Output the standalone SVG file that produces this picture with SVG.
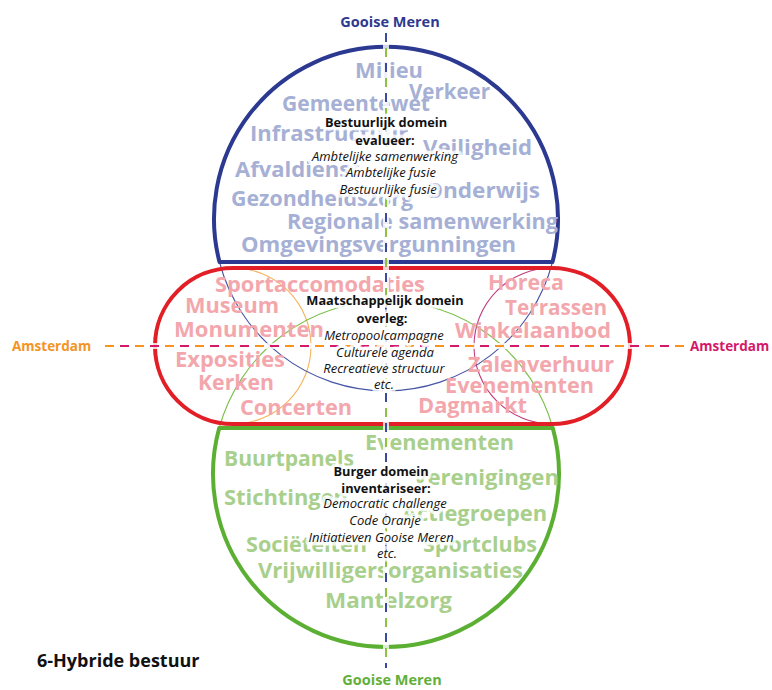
<svg xmlns="http://www.w3.org/2000/svg" width="772" height="690" viewBox="0 0 772 690">
<defs>
<style>
.fb{font-family:"Open Sans","Noto Sans","Liberation Sans",sans-serif;font-weight:bold;font-size:22px;}
.fblue{fill:#a6b0d5;}
.fred{fill:#f3a7ac;}
.fgreen{fill:#a8d08c;}
.hd{font-family:"Open Sans","Noto Sans","Liberation Sans",sans-serif;font-weight:bold;font-size:12.8px;fill:#111;text-anchor:middle;stroke:#fff;stroke-width:7;stroke-opacity:0.8;stroke-linejoin:round;paint-order:stroke;}
.it{font-family:"Open Sans","Noto Sans","Liberation Sans",sans-serif;font-style:italic;font-size:13px;fill:#111;text-anchor:middle;stroke:#fff;stroke-width:7;stroke-opacity:0.8;stroke-linejoin:round;paint-order:stroke;}
.lbl{font-family:"Open Sans","Noto Sans","Liberation Sans",sans-serif;font-weight:bold;}
.thin{fill:none;stroke-width:1.1;}
.thick{fill:none;stroke-width:4;stroke-linejoin:round;}
.halo{stroke:#fff;stroke-width:6;stroke-opacity:0.8;}
</style>
</defs>
<rect width="772" height="690" fill="#fff"/>

<g id="inner-circles">
<circle class="thin" cx="233" cy="346" r="78" stroke="#f6b25a"/>
<circle class="thin" cx="552" cy="346" r="78" stroke="#c23a7c"/>
<path class="thin" d="M219.5,262 A172,172 0 0 0 552.5,262" stroke="#4654a5"/>
<path class="thin" d="M219.2,428 A173,173 0 0 1 552.8,428" stroke="#7cc04a"/>
</g>

<g id="bestuurlijk-domein">
<path class="thick" d="M219.5,262 A172,172 0 1 1 552.5,262 Z" stroke="#2b3990"/>
<text class="fb fblue" x="355" y="78" textLength="68" lengthAdjust="spacingAndGlyphs">Milieu</text>
<text class="fb fblue" x="409" y="99" textLength="81" lengthAdjust="spacingAndGlyphs">Verkeer</text>
<text class="fb fblue" x="282" y="111" textLength="148" lengthAdjust="spacingAndGlyphs">Gemeentewet</text>
<text class="fb fblue" x="250" y="141">Infrastructuur</text>
<text class="fb fblue" x="423" y="155" textLength="109" lengthAdjust="spacingAndGlyphs">Veiligheid</text>
<text class="fb fblue" x="235" y="177">Afvaldienst</text>
<text class="fb fblue" x="425" y="198" textLength="115" lengthAdjust="spacingAndGlyphs">Onderwijs</text>
<text class="fb fblue" x="231" y="206" textLength="182" lengthAdjust="spacingAndGlyphs">Gezondheidszorg</text>
<text class="fb fblue" x="287" y="229" textLength="271" lengthAdjust="spacingAndGlyphs">Regionale samenwerking</text>
<text class="fb fblue" x="241" y="252" textLength="275" lengthAdjust="spacingAndGlyphs">Omgevingsvergunningen</text>
</g>

<g id="maatschappelijk-domein">
<rect class="thick" x="155" y="268" width="475" height="156" rx="78" ry="78" stroke="#e21f26"/>
<text class="fb fred" x="215" y="292" textLength="210" lengthAdjust="spacingAndGlyphs">Sportaccomodaties</text>
<text class="fb fred" x="185" y="313" textLength="94" lengthAdjust="spacingAndGlyphs">Museum</text>
<text class="fb fred" x="174" y="337" textLength="150" lengthAdjust="spacingAndGlyphs">Monumenten</text>
<text class="fb fred" x="175" y="367" textLength="110" lengthAdjust="spacingAndGlyphs">Exposities</text>
<text class="fb fred" x="198" y="390" textLength="76" lengthAdjust="spacingAndGlyphs">Kerken</text>
<text class="fb fred" x="240" y="415" textLength="112" lengthAdjust="spacingAndGlyphs">Concerten</text>
<text class="fb fred" x="488" y="290" textLength="76" lengthAdjust="spacingAndGlyphs">Horeca</text>
<text class="fb fred" x="505" y="315" textLength="102" lengthAdjust="spacingAndGlyphs">Terrassen</text>
<text class="fb fred" x="455" y="338" textLength="156" lengthAdjust="spacingAndGlyphs">Winkelaanbod</text>
<text class="fb fred" x="468" y="372" textLength="146" lengthAdjust="spacingAndGlyphs">Zalenverhuur</text>
<text class="fb fred" x="445" y="393" textLength="149" lengthAdjust="spacingAndGlyphs">Evenementen</text>
<text class="fb fred" x="418" y="413" textLength="109" lengthAdjust="spacingAndGlyphs">Dagmarkt</text>
</g>

<g id="burger-domein">
<path class="thick" d="M219.2,428 A173,173 0 1 0 552.8,428 Z" stroke="#5bb033"/>
<text class="fb fgreen" x="365" y="450" textLength="149" lengthAdjust="spacingAndGlyphs">Evenementen</text>
<text class="fb fgreen" x="224" y="466" textLength="130" lengthAdjust="spacingAndGlyphs">Buurtpanels</text>
<text class="fb fgreen" x="413" y="485" textLength="146" lengthAdjust="spacingAndGlyphs">Verenigingen</text>
<text class="fb fgreen" x="224" y="505" textLength="124" lengthAdjust="spacingAndGlyphs">Stichtingen</text>
<text class="fb fgreen" x="402" y="521" textLength="145" lengthAdjust="spacingAndGlyphs">Actiegroepen</text>
<text class="fb fgreen" x="246" y="552" textLength="121" lengthAdjust="spacingAndGlyphs">Sociëteiten</text>
<text class="fb fgreen" x="423" y="552" textLength="114" lengthAdjust="spacingAndGlyphs">Sportclubs</text>
<text class="fb fgreen" x="258" y="578" textLength="265" lengthAdjust="spacingAndGlyphs">Vrijwilligersorganisaties</text>
<text class="fb fgreen" x="325" y="608" textLength="127" lengthAdjust="spacingAndGlyphs">Mantelzorg</text>
</g>

<g id="connectors">
<line class="halo" x1="386" y1="33" x2="386" y2="668"/>
<line class="halo" x1="105" y1="346" x2="688" y2="346"/>
<line x1="386" y1="33" x2="386" y2="668" stroke="#3a4aa0" stroke-width="2" stroke-dasharray="9 21"/>
<line x1="386" y1="33" x2="386" y2="668" stroke="#8cc43f" stroke-width="2" stroke-dasharray="0 15 9 6"/>
<line x1="105" y1="346" x2="688" y2="346" stroke="#f7941d" stroke-width="2" stroke-dasharray="9 21"/>
<line x1="105" y1="346" x2="688" y2="346" stroke="#d4186a" stroke-width="2" stroke-dasharray="0 15 9 6"/>
</g>

<g id="bestuurlijk-tekst">
<text class="hd" x="386" y="127">Bestuurlijk domein</text>
<text class="hd" x="385" y="145">evalueer:</text>
<text class="it" x="385" y="161">Ambtelijke samenwerking</text>
<text class="it" x="391" y="177">Ambtelijke fusie</text>
<text class="it" x="388" y="194">Bestuurlijke fusie</text>
</g>

<g id="maatschappelijk-tekst">
<text class="hd" x="385" y="305">Maatschappelijk domein</text>
<text class="hd" x="382" y="323">overleg:</text>
<text class="it" x="384" y="340">Metropoolcampagne</text>
<text class="it" x="385" y="357">Culturele agenda</text>
<text class="it" x="384" y="373">Recreatieve structuur</text>
<text class="it" x="384" y="389">etc.</text>
</g>

<g id="burger-tekst">
<text class="hd" x="381" y="476">Burger domein</text>
<text class="hd" x="386" y="493">inventariseer:</text>
<text class="it" x="385" y="508">Democratic challenge</text>
<text class="it" x="385" y="525">Code Oranje</text>
<text class="it" x="381" y="542">Initiatieven Gooise Meren</text>
<text class="it" x="387" y="558">etc.</text>
</g>

<g id="labels">
<text class="lbl" x="390" y="27" font-size="14.5" fill="#2e3a8f" text-anchor="middle">Gooise Meren</text>
<text class="lbl" x="392" y="685" font-size="14.5" fill="#62b03a" text-anchor="middle">Gooise Meren</text>
<text class="lbl" x="12" y="351" font-size="13.5" fill="#f39424">Amsterdam</text>
<text class="lbl" x="690" y="351" font-size="13.5" fill="#d4186a">Amsterdam</text>
<text class="lbl" x="37" y="667" font-size="18" fill="#111">6-Hybride bestuur</text>
</g>
</svg>
